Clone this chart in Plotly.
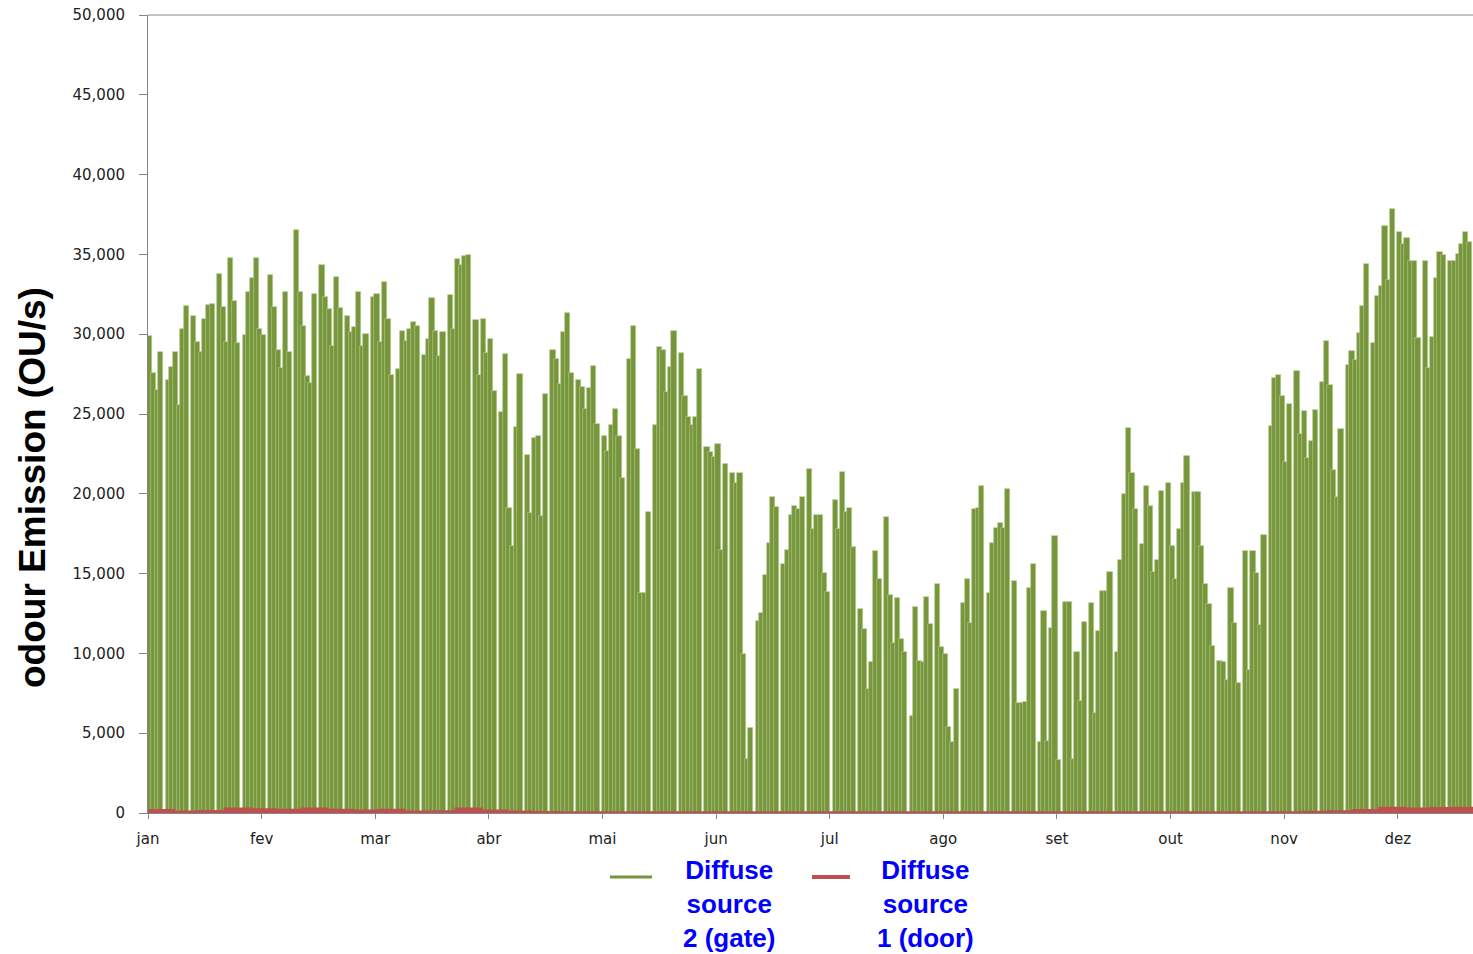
import plotly.graph_objects as go

# Daily peak emission of diffuse source 2 (gate), OU/s, grouped in 31-day blocks
gate_jan = [29870, 27540, 26490, 28870, 0, 27130, 27970, 28870, 25540, 30350, 31770, 0,
            31110, 29510, 28870, 30940, 31820, 31870, 0, 33800, 31700, 29510, 34750, 32080,
            29460, 0, 29920, 32650, 33510, 34750, 30350]
gate_fev = [29940, 0, 33680, 31700, 29040, 27890, 32650, 28870, 0, 36530, 32650, 30510,
            27370, 26940, 32490, 0, 34340, 32300, 31610, 29270, 33610, 31650, 0, 31110,
            30110, 30460, 32650, 29270, 30000, 0, 32300]
gate_mar = [32490, 29510, 33270, 30940, 27420, 0, 27850, 30180, 29560, 30350, 30750, 30540,
            0, 28680, 29680, 32250, 30180, 28630, 30110, 0, 32440, 30300, 34700, 34340,
            34910, 34990, 0, 30890, 27420, 30940, 28850]
gate_abr = [29680, 26420, 0, 25110, 28730, 19090, 16730, 24160, 27490, 0, 22440, 18800,
            23510, 23630, 18640, 26250, 0, 29040, 28440, 26890, 30150, 31300, 27540, 0,
            27130, 26700, 25300, 26650, 28010, 24370, 0]
gate_mai = [23620, 22700, 24310, 25290, 23620, 20970, 0, 28430, 30530, 22810, 13770, 13770,
            18840, 0, 24310, 29220, 29010, 26400, 27970, 30220, 0, 28800, 26150, 24790,
            24310, 24830, 27800, 0, 22910, 22640, 22330]
gate_jun = [23100, 16480, 21850, 0, 21290, 20700, 21290, 9940, 3360, 5350, 0, 12050,
            12510, 14910, 16940, 19780, 19150, 0, 15600, 16480, 18670, 19240, 19030, 19820,
            0, 21530, 17780, 18670, 18670, 15060, 13870]
gate_jul = [0, 19610, 17780, 21350, 18880, 19130, 16650, 0, 12760, 11530, 7770, 9480,
            16420, 14640, 0, 18530, 13660, 10630, 13490, 10880, 10070, 0, 6100, 12930,
            9540, 9480, 13550, 11820, 0, 14330, 10420]
gate_ago = [9940, 5370, 4470, 7770, 0, 13180, 14640, 11930, 19050, 19090, 20510, 0,
            13770, 16940, 17880, 18190, 17880, 20300, 0, 14540, 6910, 6910, 6970, 14080,
            15580, 0, 4430, 12660, 4530, 11570, 17360]
gate_set = [3320, 0, 13240, 13240, 3360, 10070, 7020, 11990, 0, 13180, 6250, 11400,
            13930, 13930, 15080, 0, 10110, 15850, 19970, 24140, 21320, 19030, 0, 16860,
            20510, 19260, 15120, 15850, 20200, 0, 20660]
gate_out = [16750, 14640, 17780, 20700, 22370, 0, 20130, 20130, 16750, 14330, 13080, 10460,
            0, 9520, 9440, 8330, 14080, 11890, 8160, 0, 16440, 8930, 16430, 15050,
            11800, 17450, 0, 24250, 27250, 27430, 26130]
gate_nov = [22000, 25630, 0, 27680, 23750, 25200, 22250, 23300, 25250, 0, 27000, 29580,
            26800, 21500, 19830, 24050, 0, 28080, 28950, 28380, 30080, 31750, 34430, 0,
            29430, 32380, 33000, 36750, 33380, 37830, 0]
gate_dez = [36430, 35680, 36050, 34580, 34580, 29750, 0, 34580, 27880, 29800, 33550, 35130,
            34950, 0, 34580, 34580, 35000, 35630, 36430, 35750]

# Weekly level of diffuse source 1 (door), OU/s
door_weekly = [150, 60, 100, 250, 200, 180, 250, 180, 120, 180, 60, 80, 250, 120, 60,
               30, 20, 20, 20, 20, 20, 20, 20, 20, 20, 20, 20, 20, 20, 20,
               20, 20, 20, 20, 20, 20, 20, 20, 20, 20, 20, 20, 20, 20, 20,
               40, 80, 150, 300, 250, 280, 300]

month_labels = ["jan", "fev", "mar", "abr", "mai", "jun", "jul", "ago", "set", "out", "nov", "dez"]
tick_days = [31 * i for i in range(12)]

gate = (gate_jan + gate_fev + gate_mar + gate_abr + gate_mai + gate_jun + gate_jul
        + gate_ago + gate_set + gate_out + gate_nov + gate_dez)
day_x = [d + 0.5 for d in range(len(gate))]

door_x = []
door_y = []
for k, v in enumerate(door_weekly):
    door_x.append(7 * k)
    door_y.append(v)
door_x.append(7 * len(door_weekly))
door_y.append(door_weekly[-1])

GREEN = "#77963C"
RED = "#C0504D"
AXIS_GRAY = "#868686"

fig = go.Figure()
fig.add_trace(go.Bar(
    x=day_x, y=gate, width=1.42,
    marker=dict(color=GREEN, line=dict(color="rgba(178,202,140,0.95)", width=0.7)),
    name="Diffuse source 2 (gate)", showlegend=False,
))
fig.add_trace(go.Scatter(
    x=door_x, y=door_y, mode="lines", line=dict(color=RED, width=3, shape="hv"),
    fill="tozeroy", fillcolor=RED,
    name="Diffuse source 1 (door)", showlegend=False,
))

W, H = 1473, 954
L, R, T, B = 148, 0, 15, 141
PW, PH = W - L - R, H - T - B


def px_x(X):
    return (X - L) / PW


def px_y(Y):
    return (H - B - Y) / PH


tick_font = dict(family="DejaVu Sans", size=15, color="#222222")
legend_font = dict(family="Liberation Sans", size=26, color="#0000FF", weight="bold")

fig.update_layout(
    width=W, height=H,
    margin=dict(l=L, r=R, t=T, b=B, pad=0),
    paper_bgcolor="white", plot_bgcolor="white",
    bargap=0,
    showlegend=False,
    xaxis=dict(
        range=[0, PW / 3.665], tickmode="array", tickvals=tick_days, ticktext=month_labels,
        ticks="outside", ticklen=5, tickcolor=AXIS_GRAY, showline=True, linecolor=AXIS_GRAY,
        showgrid=False, zeroline=False, tickfont=tick_font, ticklabelstandoff=7,
    ),
    yaxis=dict(
        range=[0, 50000], tickmode="array", tickvals=list(range(0, 50001, 5000)),
        tickformat=",", ticks="outside", ticklen=8, tickcolor=AXIS_GRAY,
        showline=True, linecolor=AXIS_GRAY, showgrid=False, zeroline=False,
        tickfont=tick_font, ticklabelstandoff=11,
    ),
    shapes=[
        dict(type="line", xref="paper", yref="paper", x0=0, x1=1, y0=1, y1=1,
             line=dict(color=AXIS_GRAY, width=1)),
        dict(type="line", xref="paper", yref="paper", x0=px_x(610), x1=px_x(652),
             y0=px_y(877), y1=px_y(877), line=dict(color=GREEN, width=3)),
        dict(type="line", xref="paper", yref="paper", x0=px_x(812), x1=px_x(850),
             y0=px_y(877), y1=px_y(877), line=dict(color=RED, width=4)),
    ],
    annotations=[
        dict(text="odour Emission (OU/s)", textangle=-90, xref="paper", yref="paper",
             x=px_x(33), y=px_y(488), xanchor="center", yanchor="middle", showarrow=False,
             font=dict(family="Liberation Sans", size=37, color="black", weight="bold")),
        dict(text="Diffuse<br>source<br>2 (gate)", xref="paper", yref="paper",
             x=px_x(729), y=px_y(904), xanchor="center", yanchor="middle", align="center",
             showarrow=False, font=legend_font),
        dict(text="Diffuse<br>source<br>1 (door)", xref="paper", yref="paper",
             x=px_x(925), y=px_y(904), xanchor="center", yanchor="middle", align="center",
             showarrow=False, font=legend_font),
    ],
)

fig.write_html("out.html")
